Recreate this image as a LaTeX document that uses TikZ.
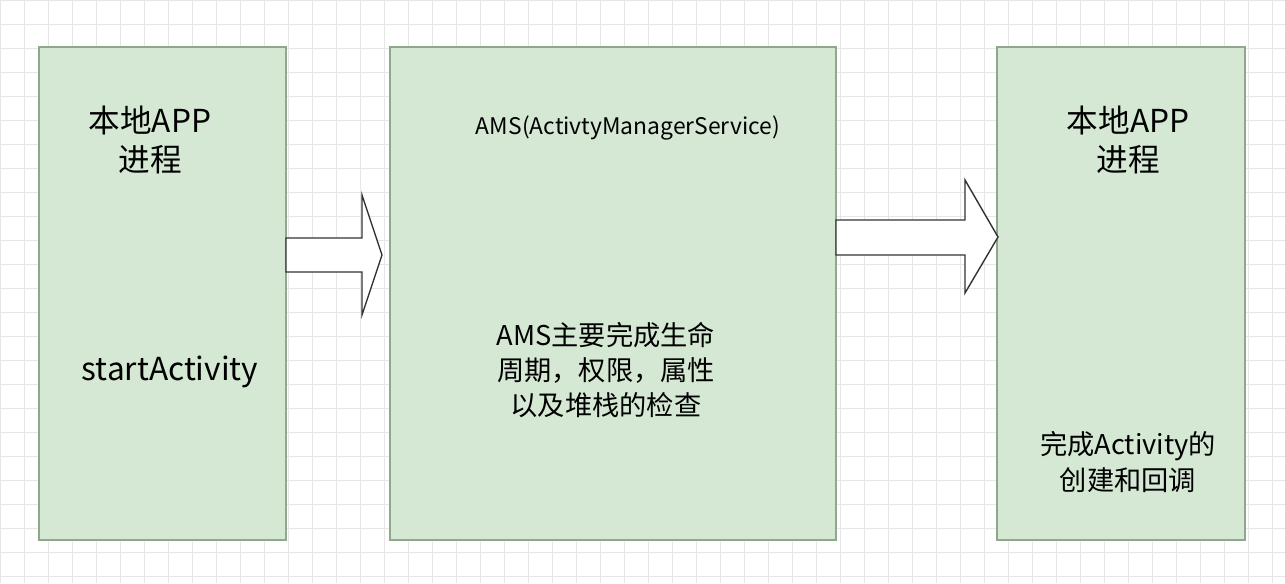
\documentclass[tikz,border=0pt]{standalone}
\usepackage{fontspec}
\setmainfont{Noto Sans CJK SC}
\definecolor{boxfill}{HTML}{D5E8D4}
\definecolor{boxline}{HTML}{8FA88C}
\definecolor{gridline}{HTML}{E6E6E6}
\tikzset{
  stagebox/.style={draw=boxline, fill=boxfill, line width=0.8pt},
  blockarrow/.style={draw=black!80, fill=white, line width=0.8pt},
  bigtext/.style={font=\fontsize{18}{22}\selectfont, align=center},
  midtext/.style={font=\fontsize{15.5}{20}\selectfont, align=center}
}
\begin{document}
\begin{tikzpicture}[x=0.02cm,y=-0.02cm]
  \useasboundingbox (0,0) rectangle (1285,583);
  % grid
  \foreach \gx in {0,24,...,1285} \draw[gridline] (\gx,0) -- (\gx,583);
  \foreach \gy in {0,24,...,583} \draw[gridline] (0,\gy) -- (1285,\gy);
  % boxes
  \draw[stagebox] (39,47) rectangle (286,540);
  \draw[stagebox] (390,47) rectangle (836,540);
  \draw[stagebox] (997,47) rectangle (1245,540);
  % block arrows
  \draw[blockarrow] (286,238) -- (362,238) -- (362,195) -- (382,255) -- (362,315) -- (362,272) -- (286,272) -- cycle;
  \draw[blockarrow] (836,220) -- (965,220) -- (965,180) -- (998,237) -- (965,293) -- (965,255) -- (836,255) -- cycle;
  % texts
  \node[bigtext] (localA) at (150,140) {本地APP\\进程};
  \node[bigtext] (start) at (170,372) {startActivity};
  \node[font=\fontsize{13}{16}\selectfont] (ams) at (628,128) {AMS(ActivtyManagerService)};
  \node[midtext] (amsjob) at (606,370) {AMS主要完成生命\\周期，权限，属性\\以及堆栈的检查};
  \node[bigtext] (localB) at (1128,140) {本地APP\\进程};
  \node[midtext] (create) at (1128,462) {完成Activity的\\创建和回调};
\end{tikzpicture}
\end{document}
